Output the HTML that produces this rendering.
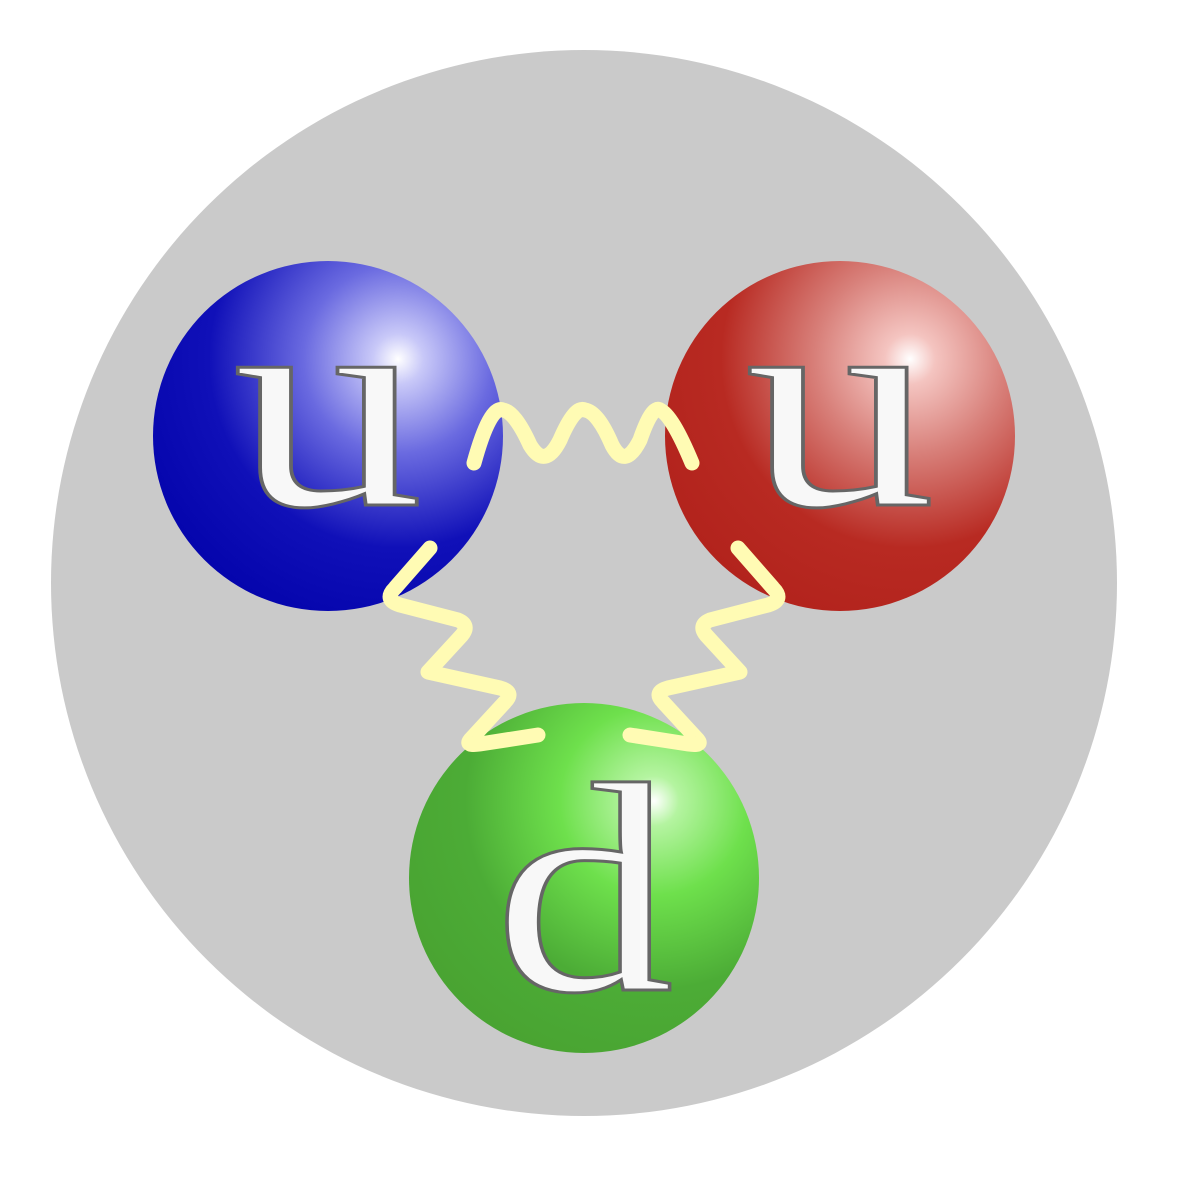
<!DOCTYPE html>
<html><head><meta charset="utf-8"><style>html,body{margin:0;padding:0;background:#fff}svg{display:block}</style></head>
<body>
<svg width="1180" height="1182" viewBox="0 0 1180 1182" xmlns="http://www.w3.org/2000/svg">
<defs>
<radialGradient id="gb" cx="0.7" cy="0.28" r="0.9" fx="0.7" fy="0.28">
<stop offset="0" stop-color="#ffffff"/>
<stop offset="0.08" stop-color="#c8c8f8"/>
<stop offset="0.3" stop-color="#6a6ae0"/>
<stop offset="0.6" stop-color="#1010b8"/>
<stop offset="1" stop-color="#0000a8"/>
</radialGradient>
<radialGradient id="gr" cx="0.7" cy="0.28" r="0.9" fx="0.7" fy="0.28">
<stop offset="0" stop-color="#ffffff"/>
<stop offset="0.08" stop-color="#f4c4c0"/>
<stop offset="0.3" stop-color="#d8807a"/>
<stop offset="0.6" stop-color="#b82a22"/>
<stop offset="1" stop-color="#b0201a"/>
</radialGradient>
<radialGradient id="gg" cx="0.7" cy="0.28" r="0.9" fx="0.7" fy="0.28">
<stop offset="0" stop-color="#ffffff"/>
<stop offset="0.08" stop-color="#b4f4a0"/>
<stop offset="0.3" stop-color="#6ee04c"/>
<stop offset="0.6" stop-color="#4cac36"/>
<stop offset="1" stop-color="#48a030"/>
</radialGradient>
</defs>
<circle cx="584" cy="583" r="533" fill="#cacaca"/>
<circle cx="328" cy="436" r="175" fill="url(#gb)"/>
<circle cx="840" cy="436" r="175" fill="url(#gr)"/>
<circle cx="584" cy="878" r="175" fill="url(#gg)"/>
<g fill="none" stroke="#fffbb4" stroke-width="15" stroke-linecap="round" stroke-linejoin="round">
<path d="M474,463 Q490,405 503,410 Q515,412 530,445 Q545,470 560,440 Q575,405 585,410 Q598,412 612,445 Q625,470 640,440 Q652,405 660,410 Q672,415 692,463"/>
<path d="M430,548 L395,588 Q383,600 400,605 L458,620 Q470,625 462,635 L428,672 L500,688 Q515,692 505,702 L470,740 Q465,746 480,744 L538,735"/>
<path d="M738,548 L773,588 Q785,600 768,605 L710,620 Q698,625 706,635 L740,672 L668,688 Q653,692 663,702 L698,740 Q703,746 688,744 L630,735"/>
</g>
<g font-family="'Liberation Serif', serif" font-size="300" fill="#f8f8f8" stroke="#666" stroke-width="3" text-anchor="middle">
<text transform="translate(328,505) scale(1.27,1)">u</text>
<text transform="translate(840,505) scale(1.27,1)">u</text>
<text transform="translate(584,990) scale(1.2,1)">d</text>
</g>
</svg>
</body></html>
